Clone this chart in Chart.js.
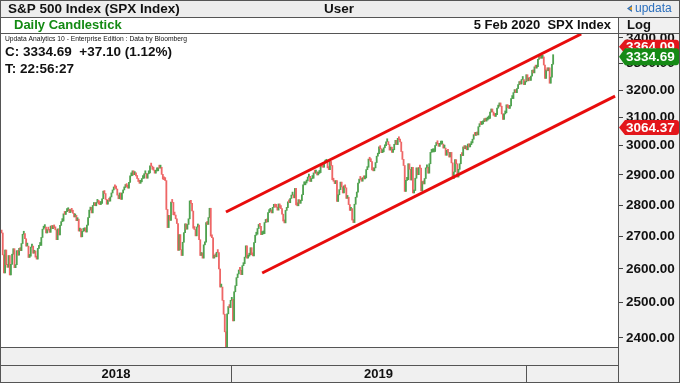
<!DOCTYPE html>
<html><head><meta charset="utf-8">
<script src="https://cdn.jsdelivr.net/npm/chart.js@4"></script>
<style>html,body{margin:0;padding:0;background:#fff;overflow:hidden}canvas{display:block}</style>
</head><body>
<canvas id="c" width="680" height="383"></canvas>
<script>
// Daily closes (S&P 500)
const prevClose = 2717;
const closes2018 = [
 2711,2643,2588,2658,2613,2605,2641,
 2582,2614,2645,2662,2604,2613,2656,2642,2663,2656,2678,2707,2709,2693,2670,2670,2635,2639,2667,2670,2648,
 2655,2636,2630,2663,2672,2672,2697,2723,2728,2730,2711,2722,2720,2713,2733,2725,2733,2727,2721,2690,2724,2705,
 2735,2747,2749,2772,2770,2779,2782,2787,2776,2782,2780,2774,2762,2767,2750,2755,2717,2724,2699,2716,2718,
 2727,2714,2736,2760,2784,2793,2775,2799,2801,2798,2809,2816,2804,2802,2806,2821,2846,2838,2819,2803,2816,
 2813,2827,2840,2850,2858,2857,2853,2833,2821,2840,2819,2840,2850,2858,2863,2861,2856,2875,2897,2898,2914,2901,2902,
 2897,2888,2878,2872,2877,2888,2889,2904,2905,2889,2904,2907,2931,2930,2919,2916,2906,2914,2914,
 2924,2923,2926,2902,2886,2884,2881,2786,2728,2767,2751,2810,2809,2769,2768,2756,2741,2657,2706,2659,2641,2682,2712,
 2740,2723,2738,2756,2814,2806,2781,2726,2722,2702,2730,2736,2690,2641,2649,2633,2674,2682,2744,2738,2760,
 2790,2701,2696,2633,2638,2637,2651,2650,2600,2546,2546,2507,2467,2417,2351,2468,2489,2486,2507
];
const closes2019 = [
 2510,2448,2532,2550,2574,2585,2597,2596,2583,2610,2616,2636,2671,2633,2639,2643,2665,2644,2640,2681,2704,
 2707,2725,2738,2732,2706,2708,2709,2744,2754,2746,2776,2780,2784,2775,2793,2796,2794,2793,2784,
 2804,2792,2789,2771,2749,2743,2783,2792,2811,2808,2822,2833,2833,2824,2855,2801,2798,2818,2806,2815,2834,
 2867,2867,2873,2880,2893,2895,2878,2888,2889,2907,2906,2908,2900,2905,2908,2934,2927,2926,2940,2943,2946,
 2924,2918,2946,2932,2884,2879,2871,2881,2812,2834,2851,2876,2860,2840,2864,2857,2822,2826,2802,2783,2789,2752,
 2744,2803,2826,2843,2873,2886,2885,2879,2891,2887,2890,2918,2926,2954,2950,2945,2917,2914,2924,2942,
 2964,2973,2996,2990,2976,2979,2993,3000,3014,3014,3004,2985,2995,2977,2986,3005,3019,3004,3026,3021,3013,2980,
 2953,2932,2845,2882,2884,2938,2919,2883,2926,2840,2848,2889,2924,2901,2925,2923,2847,2878,2870,2888,2924,2926,
 2906,2938,2977,2979,2979,2980,3001,3010,3007,2998,3006,3006,3006,2992,2992,2967,2984,2977,2961,2977,
 2941,2888,2910,2952,2938,2893,2919,2938,2970,2966,2996,2990,2998,2986,3006,2996,3004,3010,3023,3039,3036,3047,3038,
 3067,3078,3075,3077,3085,3093,3087,3091,3095,3097,3120,3122,3120,3108,3104,3110,3134,3141,3153,3141,
 3113,3093,3113,3117,3146,3136,3133,3142,3169,3169,3191,3192,3191,3206,3221,3224,3223,3240,3240,3221,3231
];
const closes2020 = [
 3258,3235,3246,3237,3253,3275,3265,3288,3283,3289,3317,3330,3321,3321,3326,3295,3244,3276,3273,3284,3226,
 3249,3298,3334.69
];
const yearLabels = ['2018','2019','2020'];
const showYearLabel = [true, true, false];
const futureSlots = 55;
const yTicks = [2400,2500,2600,2700,2800,2900,3000,3100,3200,3300,3400];
const yMin = 2374.8, yMax = 3415.8;
// trend channel endpoints: [bar index, price]
const upperTrend = [[192, 2778], [496, 3415.8]];
const lowerTrend = [[223, 2588], [525, 3178]];
const lastClose = 3334.69, lastChange = 37.10, lastPct = 1.12;
const upperTag = 3364.09, lowerTag = 3064.37;

const closes = [...closes2018, ...closes2019, ...closes2020];
const N = closes.length + futureSlots;
const labels = Array.from({length: N}, (_, i) => i);
const candles = closes.map((c, i) => [i ? closes[i - 1] : prevClose, c]);
const UP = '#4fa24f', DN = '#ee6666';
const candleColors = candles.map(([o, c]) => c >= o ? UP : DN);

const yearLens = [closes2018.length, closes2019.length, closes2020.length];
const yearStarts = [0, yearLens[0], yearLens[0] + yearLens[1]];

const FONT = '"Liberation Sans", Arial, sans-serif';

const chrome = {
  id: 'chrome',
  beforeDraw(chart) {
    const {ctx, chartArea: a} = chart;
    ctx.save();
    ctx.fillStyle = '#fff'; ctx.fillRect(0, 0, 680, 383);
    ctx.fillStyle = '#f0f0f0';
    ctx.fillRect(a.right, 0, 680 - a.right, 383);
    ctx.fillRect(0, a.bottom, a.right, 383 - a.bottom);
    ctx.restore();
  },
  afterDraw(chart) {
    const {ctx, chartArea: a, scales} = chart;
    const xs = scales.x, ys = scales.y;
    ctx.save();
    // header rows
    ctx.fillStyle = '#ededed'; ctx.fillRect(0, 0, 680, 17);
    ctx.fillStyle = '#fff'; ctx.fillRect(0, 17, a.right, 16);
    ctx.fillStyle = '#f0f0f0'; ctx.fillRect(a.right, 17, 680 - a.right, 16);
    // frame lines
    ctx.strokeStyle = '#555'; ctx.lineWidth = 1;
    const hl = (x1, x2, y) => { ctx.beginPath(); ctx.moveTo(x1, y + 0.5); ctx.lineTo(x2, y + 0.5); ctx.stroke(); };
    const vl = (x, y1, y2) => { ctx.beginPath(); ctx.moveTo(x + 0.5, y1); ctx.lineTo(x + 0.5, y2); ctx.stroke(); };
    hl(0, 680, 0); hl(0, 680, 17); hl(0, 680, 33);
    hl(0, a.right, 347); hl(0, a.right, 365); hl(0, 680, 382);
    vl(0, 0, 383); vl(679, 0, 383); vl(618, 17, 383);
    // year bands (boundaries from the x scale)
    const bounds = [a.left];
    for (let k = 1; k < yearStarts.length; k++) {
      const s = yearStarts[k];
      const bx = Math.round((xs.getPixelForValue(s - 1) + xs.getPixelForValue(s)) / 2);
      bounds.push(bx);
      vl(bx, 365, 383);
    }
    bounds.push(a.right);
    ctx.textBaseline = 'middle';
    ctx.fillStyle = '#111';
    ctx.font = 'bold 13px ' + FONT;
    ctx.textAlign = 'center';
    yearLabels.forEach((y, k) => { if (showYearLabel[k]) ctx.fillText(y, (bounds[k] + bounds[k + 1]) / 2, 374.5); });
    // header texts
    ctx.font = 'bold 13.5px ' + FONT;
    ctx.textAlign = 'left'; ctx.fillText('S&P 500 Index (SPX Index)', 8, 9.5);
    ctx.textAlign = 'center'; ctx.fillText('User', 339, 9.5);
    ctx.font = 'bold 13px ' + FONT;
    ctx.textAlign = 'right'; ctx.fillText('5 Feb 2020  SPX Index', 611, 25.5);
    ctx.textAlign = 'left'; ctx.fillText('Log', 627, 25.5);
    ctx.fillStyle = '#138a13'; ctx.fillText('Daily Candlestick', 14, 25.5);
    // updata logo
    ctx.fillStyle = '#2b6fbd';
    ctx.beginPath(); ctx.moveTo(627, 8.5); ctx.lineTo(632, 5); ctx.lineTo(632, 12); ctx.closePath(); ctx.fill();
    ctx.fillStyle = '#e8a020';
    ctx.beginPath(); ctx.moveTo(629, 8.5); ctx.lineTo(632, 6.5); ctx.lineTo(632, 10.5); ctx.closePath(); ctx.fill();
    ctx.fillStyle = '#2b6fbd'; ctx.font = '12px ' + FONT; ctx.fillText('updata', 635, 8.5);
    // info texts
    ctx.fillStyle = '#111';
    ctx.font = '7px ' + FONT;
    ctx.fillText('Updata Analytics 10 - Enterprise Edition : Data by Bloomberg', 5, 39, 182);
    ctx.font = 'bold 13.5px ' + FONT;
    ctx.fillText('C: ' + lastClose.toFixed(2) + '  +' + lastChange.toFixed(2) + ' (' + lastPct.toFixed(2) + '%)', 5, 52.5);
    ctx.fillText('T: 22:56:27', 5, 69.5);
    // price tags
    const tag = (y, text, color, h) => {
      const x0 = a.right + 1;
      ctx.fillStyle = color;
      ctx.beginPath();
      ctx.moveTo(x0, y); ctx.lineTo(x0 + 6, y - h / 2); ctx.lineTo(676, y - h / 2);
      ctx.quadraticCurveTo(679, y - h / 2, 679, y - h / 2 + 3);
      ctx.lineTo(679, y + h / 2 - 3);
      ctx.quadraticCurveTo(679, y + h / 2, 676, y + h / 2);
      ctx.lineTo(x0 + 6, y + h / 2); ctx.closePath(); ctx.fill();
      ctx.fillStyle = '#fff'; ctx.font = 'bold 13.5px ' + FONT; ctx.textAlign = 'left';
      ctx.fillText(text, x0 + 7, y + 0.5);
    };
    tag(ys.getPixelForValue(upperTag) - 0.5, upperTag.toFixed(2), '#e3161b', 14);
    tag(ys.getPixelForValue(lastClose) + 2, lastClose.toFixed(2), '#168a16', 17);
    tag(ys.getPixelForValue(lowerTag), lowerTag.toFixed(2), '#e3161b', 15);
    ctx.restore();
  }
};

new Chart(document.getElementById('c'), {
  data: {
    labels,
    datasets: [
      { type: 'line', label: 'upper', data: upperTrend.map(([x, y]) => ({x, y})),
        borderColor: '#e80c0c', borderWidth: 3, pointRadius: 0, order: 0, clip: 0 },
      { type: 'line', label: 'lower', data: lowerTrend.map(([x, y]) => ({x, y})),
        borderColor: '#e80c0c', borderWidth: 3, pointRadius: 0, order: 0, clip: 0 },
      { type: 'bar', label: 'SPX', data: candles, backgroundColor: candleColors,
        barPercentage: 1, categoryPercentage: 1, minBarLength: 3, borderWidth: 0, order: 1 }
    ]
  },
  options: {
    responsive: false, animation: false, devicePixelRatio: 1,
    layout: { padding: { top: 34, left: 1, right: 0, bottom: 0 } },
    plugins: { legend: { display: false }, tooltip: { enabled: false } },
    scales: {
      x: {
        type: 'category', offset: true,
        grid: { display: false, drawTicks: false }, border: { display: false },
        ticks: { display: false },
        afterFit: s => { s.height = 36; }
      },
      y: {
        type: 'logarithmic', position: 'right', min: yMin, max: yMax,
        afterBuildTicks: s => { s.ticks = yTicks.map(v => ({value: v})); },
        grid: { drawOnChartArea: false, drawTicks: true, tickLength: 5, color: '#444' },
        border: { display: true, color: '#444' },
        ticks: { autoSkip: false, padding: 3, color: '#111',
          font: { family: FONT, size: 13.5, weight: 'bold' },
          callback: v => Number(v).toFixed(2) },
        afterFit: s => { s.width = 62; }
      }
    }
  },
  plugins: [chrome]
});
</script>
</body></html>
